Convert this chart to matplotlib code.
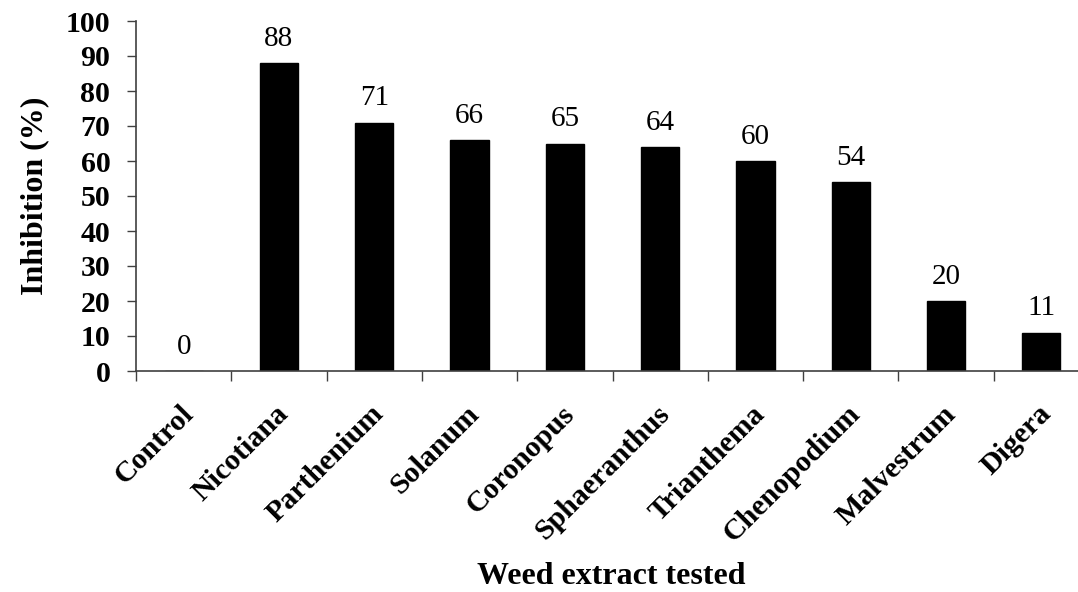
import matplotlib
matplotlib.use("Agg")
import matplotlib.pyplot as plt
import matplotlib.transforms as mtransforms
import numpy as np

plt.rcParams['font.family'] = ['Liberation Serif', 'DejaVu Serif']

categories = ['Control', 'Nicotiana', 'Parthenium', 'Solanum', 'Coronopus',
              'Sphaeranthus', 'Trianthema', 'Chenopodium', 'Malvestrum', 'Digera']
inhibition = [0, 88, 71, 66, 65, 64, 60, 54, 20, 11]
yticks = list(range(0, 101, 10))

fig = plt.figure(figsize=(10.78, 5.92), dpi=100)
# axes runs past the right edge of the figure, as in the original
ax = fig.add_axes([136/1078, 221/592, 953/1078, 350/592])

x = np.arange(len(categories))
ax.bar(x, inhibition, width=0.4, color='black', edgecolor='black')

for xi, v in zip(x, inhibition):
    ax.annotate(str(v), (xi, v), xytext=(0, 8), textcoords='offset points',
                ha='center', va='bottom', fontsize=21)

ax.set_xlim(-0.5, len(categories) - 0.5)
ax.set_ylim(0, 100)
ax.set_yticks(yticks)
ax.set_yticklabels([str(t) for t in yticks], fontsize=21.5, fontweight='bold')

# ticks sit between categories, labels sit under the centres
ax.set_xticks(np.arange(len(categories) + 1) - 0.5)
ax.set_xticklabels([])
ax.set_xticks(x, minor=True)
ax.set_xticklabels(categories, minor=True, rotation=45, ha='right', va='top',
                   rotation_mode='anchor', fontsize=21.5, fontweight='bold')
ax.tick_params(axis='x', which='minor', length=0, pad=21)
ax.tick_params(axis='x', which='major', direction='out', length=7, width=1, color='#404040')
ax.tick_params(axis='y', direction='out', length=6.5, width=1, color='#404040', pad=12)

shift = mtransforms.ScaledTranslation(-4/100, 0, fig.dpi_scale_trans)
for lbl in ax.get_xticklabels(minor=True):
    lbl.set_transform(lbl.get_transform() + shift)

for s in ['top', 'right']:
    ax.spines[s].set_visible(False)
for s in ['left', 'bottom']:
    ax.spines[s].set_color('#404040')
    ax.spines[s].set_linewidth(1.2)

ax.set_ylabel('Inhibition (%)', fontsize=23, fontweight='bold', labelpad=12)
ax.set_xlabel('Weed extract tested', fontsize=23, fontweight='bold')
ax.xaxis.set_label_coords((611 - 136) / 953, -(577 - 371) / 350)
ax.xaxis.label.set_va('center')

fig.savefig('out.png', dpi=100)
